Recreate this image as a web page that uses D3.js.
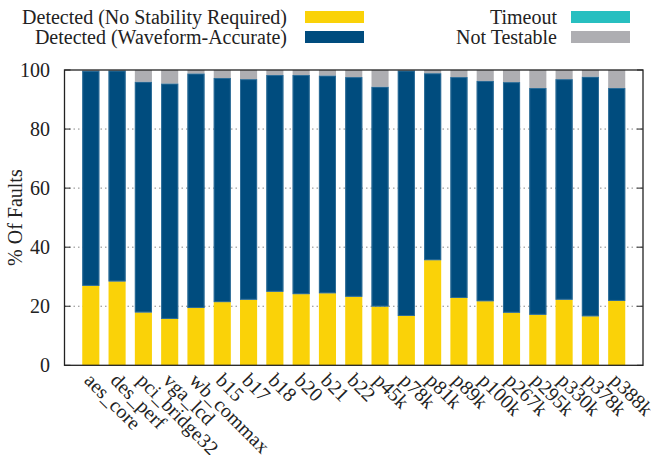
<!DOCTYPE html>
<html><head><meta charset="utf-8">
<script src="https://cdn.jsdelivr.net/npm/d3@7"></script>
<style>body{margin:0;background:#fff}svg{display:block}</style>
</head><body><svg id="c" width="653" height="455" font-family="Liberation Serif, serif"></svg>
<script>
const categories = ["aes_core","des_perf","pci_bridge32","vga_lcd","wb_commax","b15","b17","b18","b20","b21","b22","p45k","p78k","p81k","p89k","p100k","p267k","p295k","p330k","p378k","p388k"];
const detectedNoStability = [26.9,28.4,17.9,15.7,19.4,21.4,22.2,24.9,24.1,24.4,23.2,19.9,16.7,35.6,22.8,21.7,17.8,17.1,22.2,16.6,21.8];
const detectedTotal = [99.7,99.8,96.0,95.4,98.8,97.3,96.9,98.3,98.3,98.1,97.6,94.3,99.8,98.9,97.6,96.3,95.9,93.9,96.9,97.7,93.9];
const timeout = [0,0,0,0,0,0,0,0,0,0,0,0,0,0,0,0,0,0,0,0,0];
const yTicks = [0,20,40,60,80,100];
const seriesNames = ["Detected (No Stability Required)","Detected (Waveform-Accurate)","Timeout","Not Testable"];
const colors = ["#fad208","#004c7e","#27bfc0","#aeaeb2"];
const FONT = "'Liberation Serif', 'Times New Roman', Times, serif";
const FS = 20;

const svg = d3.select("#c");
const m = {l:64.5, r:643, t:70, b:365.3};
const x = d3.scaleLinear().domain([-1, categories.length]).range([m.l, m.r]);
const y = d3.scaleLinear().domain([0,100]).range([m.b, m.t]);
const bw = (x(1)-x(0))*0.65;

svg.append("g").selectAll("line").data(yTicks.filter(d=>d>0&&d<100)).join("line")
  .attr("x1",m.l).attr("x2",m.r).attr("y1",d=>y(d)).attr("y2",d=>y(d))
  .attr("stroke","#888").attr("stroke-width",1).attr("stroke-dasharray","1.5,3");

const rows = categories.map((c,i)=>{
  const a = detectedNoStability[i], b = detectedTotal[i], t = timeout[i];
  return [[0,a],[a,b],[b,b+t],[b+t,100]];
});
const g = svg.append("g");
rows.forEach((r,i)=>{
  r.forEach((seg,k)=>{
    if (seg[1]-seg[0] <= 0) return;
    g.append("rect").attr("x",x(i)-bw/2).attr("width",bw)
      .attr("y",y(seg[1])).attr("height",y(seg[0])-y(seg[1]))
      .attr("fill",colors[k]);
  });
  g.append("rect").attr("x",x(i)-bw/2+0.5).attr("width",bw-1)
    .attr("y",y(detectedTotal[i])+0.5).attr("height",y(detectedNoStability[i])-y(detectedTotal[i])-1)
    .attr("fill","none").attr("stroke","#3f7aa3").attr("stroke-width",1).attr("stroke-opacity",0.7);
});

svg.append("rect").attr("x",m.l).attr("y",m.t).attr("width",m.r-m.l).attr("height",m.b-m.t)
  .attr("fill","none").attr("stroke","#222").attr("stroke-width",1.3);

const txt = (sel)=>sel.append("text").style("font-family",FONT).attr("fill","#222").attr("font-size",FS);

const yt = svg.append("g");
yTicks.forEach(v=>{
  yt.append("line").attr("x1",m.l).attr("x2",m.l+6).attr("y1",y(v)).attr("y2",y(v)).attr("stroke","#222");
  yt.append("line").attr("x1",m.r).attr("x2",m.r-6).attr("y1",y(v)).attr("y2",y(v)).attr("stroke","#222");
  txt(yt).attr("x",50).attr("y",y(v)).attr("dy","0.35em").attr("text-anchor","end").text(v);
});
txt(svg).attr("transform","translate(22,"+((m.t+m.b)/2)+") rotate(-90)")
  .attr("text-anchor","middle").text("% Of Faults");

const xl = svg.append("g");
categories.forEach((d,i)=>{
  txt(xl).attr("transform","translate("+(x(i)+3)+",371) rotate(45)")
    .attr("dy","0.75em").attr("text-anchor","start").text(d);
});

const leg = [[0,287,305,17],[1,287,305,37],[2,557,571,17],[3,557,571,37]];
leg.forEach(([k,tx,sx,yy])=>{
  txt(svg).attr("x",tx).attr("y",yy).attr("dy","0.35em").attr("text-anchor","end").text(seriesNames[k]);
  svg.append("rect").attr("x",sx).attr("y",yy-6).attr("width",59).attr("height",12).attr("fill",colors[k]);
});
</script></body></html>
